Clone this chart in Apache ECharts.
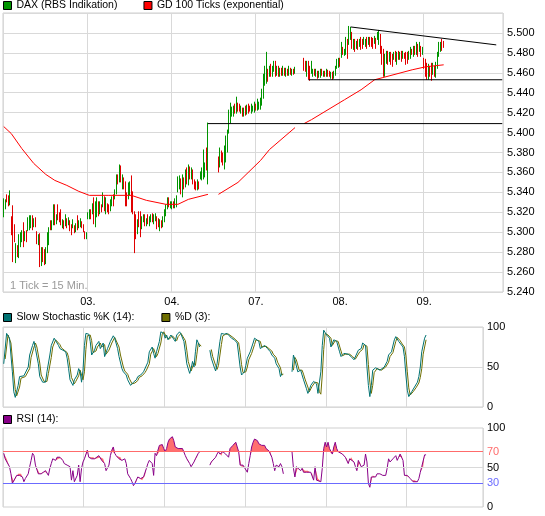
<!DOCTYPE html>
<html>
<head>
<meta charset="utf-8">
<script src="https://cdn.jsdelivr.net/npm/echarts@6/dist/echarts.min.js"></script>
<style>
html, body { margin: 0; padding: 0; background: #fff; }
#chart { width: 545px; height: 516px; }
</style>
</head>
<body>
<div id="chart"></div>
<script>
// x axis: 15 minute ticks, 56 per trading day
const dayLabels = ['02.', '03.', '04.', '07.', '08.', '09.'];
const ticksPerDay = 56;
const totalTicks = 333;

// candles as [open, close, low, high]
const day02 = [
  [5317,5332,5315,5334],[5325,5332,5323,5333],[5337,5332,5330,5338],[5336,5328,5326,5337],
  [5329,5340,5327,5342],[5315,5299,5297,5316],[5326,5272,5270,5327],[5306,5299,5290,5308],
  [5271,5288,5269,5289],[5286,5277,5275,5287],[5276,5297,5274,5298],[5287,5299,5285,5300],
  [5292,5301,5290,5302],[5309,5287,5285,5310],[5293,5300,5291,5301],[5301,5292,5290,5302],
  [5303,5314,5301,5315],[5304,5316,5302,5317],[5306,5316,5304,5317],[5316,5304,5302,5317],
  [5307,5313,5305,5314],[5314,5307,5305,5315],[5300,5290,5288,5301],[5289,5297,5287,5298],
  [5297,5268,5265,5299],[5268,5284,5266,5285],[5284,5272,5270,5285],[5282,5269,5267,5283],
  [5270,5284,5268,5285],[5281,5299,5279,5300],[5289,5304,5287,5305],[5311,5304,5302,5312],
  [5304,5311,5302,5312],[5309,5327,5307,5328],[5327,5309,5307,5328],[5310,5317,5308,5318],
  [5327,5314,5312,5328],[5318,5312,5310,5320],[5322,5309,5307,5323],[5306,5312,5304,5313],
  [5311,5305,5303,5312],[5308,5317,5306,5318],[5313,5306,5304,5314],[5309,5314,5307,5315],
  [5311,5303,5301,5312],[5307,5299,5297,5308],[5306,5312,5304,5313],[5306,5301,5299,5307],
  [5302,5308,5300,5309],[5316,5304,5302,5317],[5306,5311,5304,5312],[5307,5313,5305,5314],
  [5310,5306,5304,5311],[5307,5302,5300,5308],[5300,5295,5293,5301],[5295,5299,5293,5300]
];
const day03 = [
  [5315,5318,5313,5320],[5315,5322,5313,5323],[5322,5315,5313,5323],[5320,5328,5318,5329],
  [5334,5310,5308,5335],[5307,5330,5305,5331],[5317,5334,5315,5335],[5330,5318,5316,5331],
  [5320,5330,5318,5331],[5327,5322,5320,5328],[5327,5339,5325,5340],[5335,5323,5321,5336],
  [5320,5334,5318,5335],[5328,5322,5320,5329],[5327,5320,5318,5328],[5323,5332,5321,5333],
  [5328,5335,5326,5336],[5337,5328,5326,5338],[5335,5342,5333,5343],[5340,5357,5338,5358],
  [5355,5350,5348,5358],[5352,5367,5350,5368],[5366,5352,5350,5367],[5345,5357,5343,5358],
  [5354,5345,5343,5355],[5350,5328,5326,5351],[5339,5328,5326,5340],[5335,5349,5333,5350],
  [5339,5350,5337,5351],[5356,5322,5320,5357],[5340,5320,5318,5341],[5320,5293,5279,5321],
  [5317,5295,5293,5318],[5300,5312,5298,5313],[5320,5307,5305,5321],[5320,5297,5295,5321],
  [5305,5315,5303,5316],[5312,5316,5310,5318],[5317,5308,5306,5318],[5308,5313,5306,5314],
  [5317,5310,5308,5318],[5308,5315,5306,5316],[5312,5317,5310,5318],[5318,5312,5310,5319],
  [5310,5317,5308,5318],[5313,5318,5311,5319],[5315,5305,5303,5316],[5313,5307,5305,5314],
  [5303,5312,5301,5313],[5310,5306,5304,5312],[5307,5315,5305,5316],[5312,5322,5310,5323],
  [5318,5327,5316,5328],[5325,5334,5323,5335],[5334,5327,5325,5335],[5326,5329,5324,5331]
];
const day04a = [
  [5325,5330,5323,5331],[5330,5326,5324,5331],[5326,5333,5324,5334],[5327,5336,5325,5337],
  [5342,5355,5340,5356],[5345,5356,5343,5357],[5353,5340,5338,5354],[5337,5357,5335,5358],
  [5354,5345,5343,5355],[5347,5362,5345,5363],[5364,5350,5348,5365],[5349,5367,5347,5368],
  [5365,5355,5353,5366],[5355,5364,5353,5365],[5362,5350,5348,5363],[5352,5345,5343,5353],
  [5350,5344,5342,5351],[5344,5352,5342,5353],[5350,5345,5343,5351],[5355,5360,5353,5361],
  [5354,5364,5352,5365],[5355,5382,5353,5383],[5357,5369,5355,5370],[5384,5364,5362,5385],
  [5349,5409,5348,5410]
];
const gap04 = 6;
const day04b = [
  [5375,5362,5360,5376],[5367,5384,5365,5385],[5381,5372,5370,5382],[5379,5369,5367,5380],
  [5365,5386,5363,5387],[5372,5396,5370,5397],[5382,5402,5380,5403],[5401,5422,5399,5423],
  [5411,5428,5409,5430],[5418,5424,5416,5426],[5418,5426,5416,5427],[5428,5421,5419,5429],
  [5421,5433,5419,5436],[5429,5423,5421,5430],[5428,5423,5421,5429],[5421,5426,5419,5427],
  [5424,5418,5416,5425],[5418,5424,5416,5425],[5426,5419,5417,5427],[5420,5427,5418,5428],
  [5428,5421,5419,5429],[5426,5423,5421,5427],[5421,5428,5419,5429],[5423,5426,5421,5427],
  [5421,5430,5420,5431]
];
const day07a = [
  [5427,5424,5422,5429],[5424,5433,5422,5434],[5425,5430,5423,5431],[5425,5434,5423,5435],
  [5429,5443,5427,5444],[5436,5458,5434,5459],[5449,5466,5447,5467],[5451,5480,5449,5481],
  [5463,5453,5451,5464],[5458,5466,5456,5467],[5468,5458,5456,5469],[5458,5466,5456,5467],
  [5463,5471,5461,5472],[5471,5458,5456,5472],[5459,5466,5457,5467],[5466,5458,5456,5467],
  [5458,5464,5456,5465],[5464,5459,5457,5465],[5459,5466,5457,5467],[5464,5459,5457,5465],
  [5458,5464,5456,5465],[5463,5459,5457,5464],[5459,5466,5457,5467],[5464,5460,5458,5465],
  [5459,5463,5457,5464],[5463,5460,5458,5464],[5461,5465,5459,5466]
];
const gap07 = 5;
const day07b = [
  [5474,5464,5462,5475],[5471,5463,5461,5472],[5458,5471,5456,5472],[5471,5455,5453,5472],
  [5466,5454,5452,5467],[5461,5471,5459,5472],[5458,5463,5456,5464],[5463,5459,5457,5464],
  [5458,5463,5456,5464],[5461,5456,5454,5462],[5457,5461,5455,5462],[5457,5463,5455,5464],
  [5463,5459,5457,5464],[5458,5461,5456,5462],[5461,5458,5456,5462],[5458,5463,5456,5464],
  [5462,5458,5456,5463],[5461,5458,5456,5462],[5456,5460,5454,5461],[5460,5455,5453,5461],
  [5456,5461,5454,5462],[5459,5466,5457,5467],[5466,5473,5464,5474],[5467,5474,5465,5475]
];
const day08 = [
  [5474,5468,5466,5475],[5477,5490,5475,5491],[5485,5480,5478,5486],[5479,5483,5477,5484],
  [5480,5495,5478,5496],[5493,5476,5474,5494],[5490,5506,5488,5507],[5495,5505,5493,5506],
  [5500,5486,5484,5501],[5485,5493,5483,5494],[5493,5483,5481,5494],[5486,5491,5484,5492],
  [5493,5485,5483,5494],[5488,5493,5486,5494],[5495,5485,5483,5496],[5493,5486,5484,5494],
  [5490,5495,5488,5496],[5488,5493,5486,5494],[5495,5486,5484,5496],[5490,5495,5488,5496],
  [5495,5488,5486,5496],[5495,5488,5486,5496],[5494,5486,5484,5495],[5491,5496,5489,5497],
  [5494,5486,5484,5495],[5495,5500,5493,5501],[5490,5501,5488,5503],[5498,5481,5479,5499],
  [5486,5470,5468,5487],[5483,5458,5456,5484],[5458,5478,5456,5479],[5471,5481,5469,5482],
  [5481,5470,5468,5482],[5473,5480,5471,5481],[5480,5470,5468,5481],[5478,5468,5466,5479],
  [5475,5480,5473,5481],[5481,5473,5471,5482],[5470,5480,5468,5481],[5481,5475,5473,5482],
  [5475,5480,5473,5481],[5481,5473,5471,5482],[5476,5481,5474,5482],[5478,5476,5474,5480],
  [5480,5470,5468,5481],[5480,5471,5469,5481],[5475,5481,5473,5482],[5476,5485,5474,5486],
  [5483,5480,5478,5484],[5478,5486,5476,5487],[5486,5480,5478,5487],[5480,5490,5478,5491],
  [5488,5478,5476,5489],[5483,5490,5481,5491],[5486,5478,5476,5487],[5480,5485,5478,5486]
];
const day09 = [
  [5474,5466,5464,5475],[5473,5458,5456,5474],[5469,5455,5453,5470],[5455,5468,5453,5469],
  [5466,5458,5456,5467],[5469,5456,5452,5470],[5460,5469,5458,5470],[5466,5458,5456,5467],
  [5457,5470,5455,5471],[5466,5480,5464,5481],[5478,5490,5476,5491],[5483,5490,5481,5491],
  [5493,5484,5482,5494],[5491,5487,5485,5492]
];

// GD 100 (exponential), [tick, value], null = no data
const gd100 = [
  [0,5406],[5,5399],[12,5384],[20,5369],[28,5358],[34,5352],[42,5347],[50,5341],[57,5337],
  [70,5337],[85,5337],[95,5332],[108,5328],[116,5328],[123,5333],[136,5338],[140,null],
  [143,5338],[156,5350],[171,5372],[177,5383],[194,5405],[197,null],
  [200,5409],[205,5413],[227,5433],[238,5443],[247,5453],[252,5455],[272,5463],[281,5466],[293,5468]
];

// drawn trend lines
const resistance1 = [[136,5409],[332,5409]];
const support1 = [[203,5453],[332,5453]];
const topLine = [[231,5506],[328,5488]];

const stochK = [[0,54],[2,92],[4,86],[6,44],[7,19],[8,12],[10,27],[11,38],[14,39],[15,38],[17,50],[18,65],[20,77],[21,82],[22,73],[24,54],[25,38],[27,31],[29,31],[30,44],[32,65],[33,77],[35,86],[36,87],[38,77],[39,73],[41,71],[43,69],[44,61],[45,48],[46,34],[48,27],[49,34],[51,40],[52,48],[53,44],[54,31],[55,46],[56,77],[57,92],[59,91],[60,82],[61,65],[63,71],[64,77],[66,82],[67,73],[69,80],[70,63],[72,73],[74,82],[76,89],[77,86],[79,73],[80,63],[82,48],[83,44],[85,40],[86,34],[88,27],[90,31],[92,34],[93,38],[95,40],[97,44],[98,46],[100,56],[101,69],[103,75],[104,67],[105,61],[106,69],[108,82],[109,94],[110,96],[111,92],[112,86],[113,90],[114,84],[116,90],[117,88],[119,82],[120,90],[122,94],[123,91],[125,82],[126,69],[127,54],[129,42],[130,48],[131,57],[132,50],[133,69],[134,84],[135,80],[136,75],[140,null],[143,71],[144,61],[146,50],[147,45],[148,54],[150,82],[151,92],[153,91],[155,92],[156,90],[158,86],[160,84],[162,80],[163,65],[164,50],[165,40],[167,44],[168,52],[169,61],[171,69],[173,80],[174,86],[177,82],[178,73],[179,75],[181,77],[183,73],[185,69],[186,65],[188,61],[189,54],[191,48],[192,38],[193,42],[197,null],[200,44],[201,65],[202,59],[204,44],[206,46],[207,40],[208,34],[210,23],[211,17],[212,21],[213,27],[215,32],[216,34],[217,29],[218,17],[219,15],[220,44],[221,77],[222,96],[224,90],[226,86],[227,75],[229,84],[231,82],[233,69],[234,63],[236,67],[237,69],[239,66],[241,63],[243,59],[244,61],[246,71],[248,73],[249,80],[251,77],[252,50],[253,27],[254,13],[255,27],[256,46],[258,49],[259,48],[261,46],[262,48],[264,50],[266,57],[267,65],[269,69],[271,84],[272,88],[274,82],[275,80],[277,75],[278,63],[279,40],[280,21],[281,13],[283,19],[285,25],[287,31],[288,38],[289,50],[290,69],[292,86],[293,90]];

const stochD = [[1,60],[3,90],[5,80],[7,40],[8,22],[9,14],[11,25],[12,36],[15,38],[16,39],[18,48],[19,62],[21,75],[22,80],[23,75],[25,55],[26,40],[28,32],[30,32],[31,42],[33,62],[34,75],[36,84],[37,86],[39,78],[40,74],[42,71],[44,68],[45,62],[46,50],[47,37],[49,29],[50,32],[52,39],[53,46],[54,44],[55,34],[56,44],[57,72],[58,89],[60,90],[61,83],[62,68],[64,70],[65,75],[67,80],[68,75],[70,78],[71,66],[73,71],[75,80],[77,87],[78,86],[80,75],[81,65],[83,50],[84,45],[86,41],[87,36],[89,29],[91,30],[93,33],[94,37],[96,39],[98,43],[99,46],[101,54],[102,66],[104,73],[105,68],[106,63],[107,67],[109,80],[110,91],[111,94],[112,92],[113,87],[114,89],[115,85],[117,89],[118,88],[120,83],[121,88],[123,92],[124,91],[126,83],[127,71],[128,57],[130,45],[131,47],[132,55],[133,52],[134,66],[135,80],[136,79],[137,76],[140,null],[144,72],[145,63],[147,52],[148,47],[149,52],[151,78],[152,89],[154,91],[156,91],[157,90],[159,87],[161,84],[163,80],[164,68],[165,53],[166,43],[168,44],[169,50],[170,59],[172,67],[174,78],[175,84],[178,82],[179,75],[180,75],[182,76],[184,73],[186,70],[187,66],[189,62],[190,56],[192,49],[193,40],[194,41],[197,null],[201,46],[202,62],[203,59],[205,46],[207,46],[208,41],[209,35],[211,25],[212,19],[213,21],[214,26],[216,31],[217,33],[218,30],[219,19],[220,16],[221,40],[222,72],[223,92],[225,90],[227,86],[228,77],[230,83],[232,82],[234,70],[235,64],[237,66],[238,68],[240,66],[242,63],[244,60],[245,61],[247,69],[249,72],[250,78],[252,76],[253,53],[254,31],[255,17],[256,27],[257,43],[259,48],[260,48],[262,46],[263,48],[265,50],[267,56],[268,63],[270,68],[272,82],[273,87],[275,83],[276,80],[278,75],[279,64],[280,44],[281,24],[282,15],[284,19],[286,24],[288,30],[289,37],[290,48],[291,66],[293,84]];

const rsi = [[0,68],[1,61],[2,61],[4,51],[5,42],[6,30],[7,32],[9,40],[10,42],[11,40],[12,42],[13,38],[14,32],[15,36],[17,42],[18,51],[19,59],[20,68],[21,65],[22,53],[24,42],[25,42],[26,42],[27,44],[29,46],[30,44],[31,40],[32,49],[33,55],[34,61],[36,59],[37,63],[38,61],[39,63],[40,62],[41,59],[42,55],[44,53],[45,51],[46,51],[47,34],[48,46],[49,32],[51,40],[52,53],[53,32],[54,49],[55,57],[56,61],[58,72],[59,63],[61,61],[62,63],[63,61],[64,61],[66,65],[67,63],[68,59],[69,61],[70,55],[71,46],[73,53],[74,65],[75,72],[76,76],[77,68],[78,65],[80,61],[81,63],[82,59],[83,59],[84,61],[85,55],[86,42],[88,36],[89,32],[90,27],[91,30],[92,32],[93,38],[95,36],[96,34],[97,38],[98,40],[99,49],[100,55],[101,59],[103,55],[104,40],[105,68],[106,65],[107,72],[108,78],[110,79],[111,74],[112,70],[113,74],[114,82],[115,86],[117,89],[118,84],[119,76],[120,76],[121,74],[122,72],[124,74],[125,72],[126,65],[127,61],[128,59],[129,55],[130,51],[132,57],[133,61],[134,63],[135,68],[136,70],[140,null],[143,53],[144,57],[145,59],[147,63],[148,67],[149,70],[150,67],[151,65],[152,70],[154,67],[155,65],[156,63],[157,74],[158,76],[159,78],[161,82],[162,76],[163,70],[164,53],[165,51],[166,53],[167,51],[169,44],[170,55],[171,65],[172,76],[173,82],[174,86],[176,84],[177,80],[178,79],[179,78],[180,79],[181,78],[182,74],[184,71],[185,70],[186,63],[187,55],[188,46],[189,53],[191,51],[192,55],[193,51],[194,42],[197,null],[200,70],[201,49],[202,38],[203,51],[204,49],[206,46],[207,49],[208,44],[209,46],[210,44],[211,46],[213,44],[214,42],[215,34],[216,51],[217,34],[218,36],[220,32],[221,49],[222,74],[223,82],[224,76],[225,82],[226,74],[228,67],[229,76],[230,82],[231,74],[232,70],[233,70],[235,67],[236,65],[237,63],[238,61],[239,55],[240,61],[241,63],[243,57],[244,51],[245,46],[246,59],[247,57],[248,51],[250,53],[251,67],[252,57],[253,30],[254,25],[255,38],[256,40],[258,38],[259,42],[260,40],[261,42],[262,42],[263,40],[265,40],[266,49],[267,61],[268,57],[269,59],[270,61],[272,65],[273,59],[274,63],[275,67],[276,65],[277,59],[278,40],[280,40],[281,38],[282,36],[283,34],[284,32],[285,34],[287,32],[288,36],[289,44],[290,51],[291,51],[292,66],[293,66]];

const rsiLabels = [0, 30, 50, 70, 100];
const rsiUpper = 70;
const rsiLower = 30;

const gap = n => Array.from({ length: n }, () => ['-', '-', '-', '-']);
const candles = [].concat(day02, day03, day04a, gap(gap04), day04b, day07a, gap(gap07), day07b, day08, day09);

const ticks = [];
for (let i = 0; i < totalTicks; i++) {
  ticks.push(dayLabels[Math.floor(i / ticksPerDay)] + '|' + (i % ticksPerDay));
}

// RSI split at the 70 level so the part above it can be shaded
const rsiBase = rsi.map(([x, v]) => [x, v === null ? null : Math.min(v, rsiUpper)]);
const rsiOver = rsi.map(([x, v]) => [x, v === null ? null : Math.max(v - rsiUpper, 0)]);

const gridLine = '#d9d9d9';
const font = "'Liberation Sans', Arial, sans-serif";
const isDayStart = idx => idx % ticksPerDay === 0;

const makeX = (gridIndex, labels) => ({
  type: 'category',
  gridIndex,
  data: ticks,
  axisLine: { show: false },
  axisTick: { show: false },
  axisLabel: {
    show: labels,
    interval: idx => isDayStart(idx) && idx > 0,
    formatter: v => v.split('|')[0],
    color: '#000',
    fontSize: 11,
    margin: 4
  },
  splitLine: { show: true, interval: isDayStart, lineStyle: { color: gridLine } }
});

const line = (data, color, xi) => ({
  type: 'line', xAxisIndex: xi, yAxisIndex: xi, data,
  symbol: 'none', connectNulls: false,
  lineStyle: { color, width: 1 }, itemStyle: { color },
  emphasis: { disabled: true }
});

const legendBase = {
  left: 3, padding: 0, itemWidth: 8, itemHeight: 8, icon: 'rect',
  itemStyle: { borderColor: '#000', borderWidth: 1 },
  textStyle: { fontSize: 10.5, color: '#000' }
};

const chart = echarts.init(document.getElementById('chart'));
chart.setOption({
  animation: false,
  textStyle: { fontFamily: font },
  legend: [
    Object.assign({}, legendBase, { top: 0, itemGap: 26, data: ['DAX (RBS Indikation)', 'GD 100 Ticks (exponential)'] }),
    Object.assign({}, legendBase, { top: 312, itemGap: 27, data: ['Slow Stochastic %K (14):', '%D (3):'] }),
    Object.assign({}, legendBase, { top: 414, data: ['RSI (14):'] })
  ],
  grid: [
    { left: 3, top: 13, width: 500, height: 279, show: true, borderColor: '#cfcfcf', borderWidth: 1 },
    { left: 3, top: 327, width: 480, height: 80, show: true, borderColor: '#cfcfcf', borderWidth: 1 },
    { left: 3, top: 428, width: 480, height: 79, show: true, borderColor: '#cfcfcf', borderWidth: 1 }
  ],
  xAxis: [makeX(0, true), makeX(1, false), makeX(2, false)],
  yAxis: [
    { type: 'value', gridIndex: 0, position: 'right', min: 5240, max: 5520, interval: 20,
      axisLine: { show: false }, axisTick: { show: false },
      axisLabel: { color: '#000', fontSize: 11, margin: 4,
        formatter: v => v === 5520 ? '' : (v / 1000).toFixed(3) },
      splitLine: { lineStyle: { color: gridLine } } },
    { type: 'value', gridIndex: 1, position: 'right', min: 0, max: 100, interval: 50,
      axisLine: { show: false }, axisTick: { show: false },
      axisLabel: { color: '#000', fontSize: 11, margin: 4 },
      splitLine: { lineStyle: { color: gridLine } } },
    { type: 'value', gridIndex: 2, position: 'right', min: 0, max: 100, interval: 10,
      axisLine: { show: false }, axisTick: { show: false },
      axisLabel: { fontSize: 11, margin: 4,
        formatter: v => rsiLabels.includes(v) ? String(v) : '',
        color: v => (+v === rsiUpper ? '#ff6b6b' : +v === rsiLower ? '#6b6bff' : '#000') },
      splitLine: { show: false } }
  ],
  graphic: [{
    type: 'text', left: 10, top: 280,
    style: { text: '1 Tick = 15 Min.', fill: '#9a9a9a', font: '11px ' + font }
  }],
  series: [
    { name: 'DAX (RBS Indikation)', type: 'candlestick', xAxisIndex: 0, yAxisIndex: 0,
      data: candles, barWidth: 1,
      itemStyle: { color: '#009400', color0: '#e00000', borderColor: '#009400', borderColor0: '#e00000', borderWidth: 1 } },
    Object.assign(line(gd100, '#ff0000', 0), { name: 'GD 100 Ticks (exponential)' }),
    line(resistance1, '#000', 0),
    line(support1, '#000', 0),
    line(topLine, '#000', 0),
    Object.assign(line(stochD, '#6e6e00', 1), { name: '%D (3):' }),
    Object.assign(line(stochK, '#007272', 1), { name: 'Slow Stochastic %K (14):' }),
    Object.assign(line(rsiBase, '#fff', 2), {
      stack: 'rsi', lineStyle: { width: 0, opacity: 0 },
      markLine: {
        silent: true, symbol: 'none', label: { show: false },
        data: [
          { yAxis: 50, lineStyle: { color: gridLine, type: 'solid', width: 1 } }
        ]
      }
    }),
    Object.assign(line(rsiOver, '#ff6f6f', 2), {
      stack: 'rsi', lineStyle: { width: 0, opacity: 0 },
      areaStyle: { color: '#ff6f6f', opacity: 1 },
      markLine: {
        silent: true, symbol: 'none', label: { show: false },
        data: [
          { yAxis: rsiUpper, lineStyle: { color: '#ff6b6b', type: 'solid', width: 1 } },
          { yAxis: rsiLower, lineStyle: { color: '#6b6bff', type: 'solid', width: 1 } }
        ]
      }
    }),
    Object.assign(line(rsi, '#880088', 2), { name: 'RSI (14):' })
  ]
});
</script>
</body>
</html>
